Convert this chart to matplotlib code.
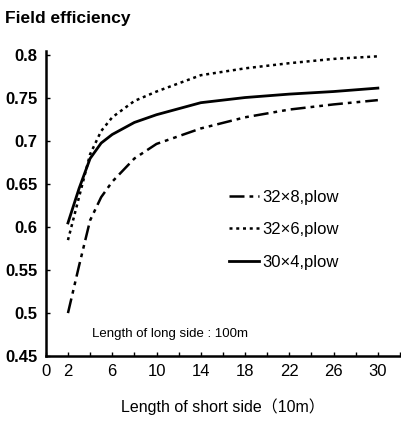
import matplotlib.pyplot as plt

plt.rcParams['font.family'] = ['Liberation Sans', 'Noto Sans CJK JP']

x = [2, 3, 4, 5, 6, 8, 10, 14, 18, 22, 26, 30]
eff_32x8 = [0.500, 0.555, 0.608, 0.635, 0.653, 0.680, 0.697, 0.715, 0.728, 0.737, 0.743, 0.748]
eff_32x6 = [0.585, 0.635, 0.685, 0.712, 0.728, 0.747, 0.758, 0.777, 0.785, 0.791, 0.796, 0.799]
eff_30x4 = [0.605, 0.645, 0.680, 0.698, 0.708, 0.722, 0.731, 0.745, 0.751, 0.755, 0.758, 0.762]
labels = ['32×8,plow', '32×6,plow', '30×4,plow']

xticks = [0, 2, 6, 10, 14, 18, 22, 26, 30]
yticks = [0.45, 0.5, 0.55, 0.6, 0.65, 0.7, 0.75, 0.8]
ytick_labels = ['0.45', '0.5', '0.55', '0.6', '0.65', '0.7', '0.75', '0.8']

fig = plt.figure(figsize=(4.02, 4.30), dpi=100)
ax = fig.add_axes([0.114, 0.172, 0.881, 0.709])

ax.plot(x, eff_32x8, color='black', lw=1.8, dashes=(6, 2, 1.5, 2, 1.5, 2), label=labels[0])
ax.plot(x, eff_32x6, color='black', lw=1.8, dashes=(1.2, 1.5), label=labels[1])
ax.plot(x, eff_30x4, color='black', lw=2.0, label=labels[2])

ax.set_xlim(0, 32)
ax.set_ylim(0.45, 0.805)
ax.set_xticks(xticks)
ax.set_xticks(range(0, 33, 2), minor=True)
ax.set_yticks(yticks)
ax.set_yticklabels(ytick_labels)
ax.tick_params(axis='both', direction='in', length=3, width=1, labelsize=12, pad=6)
ax.tick_params(axis='x', which='minor', direction='in', length=3, width=1)
for lab in ax.get_yticklabels():
    lab.set_fontweight('bold')

for side in ['top', 'right']:
    ax.spines[side].set_visible(False)
for side in ['left', 'bottom']:
    ax.spines[side].set_linewidth(1.8)

ax.set_xlabel('Length of short side（10m）', fontsize=11.5, labelpad=14)
fig.text(0.012, 0.958, 'Field efficiency', fontsize=12.5, fontweight='bold', va='center')

ax.text(4.2, 0.476, 'Length of long side : 100m', fontsize=9.5, va='center')

ax.legend(loc='center left', bbox_to_anchor=(0.475, 0.414), frameon=False,
          handlelength=1.8, handletextpad=0.2, labelspacing=1.05, fontsize=12)

fig.savefig('out.png', dpi=100)
